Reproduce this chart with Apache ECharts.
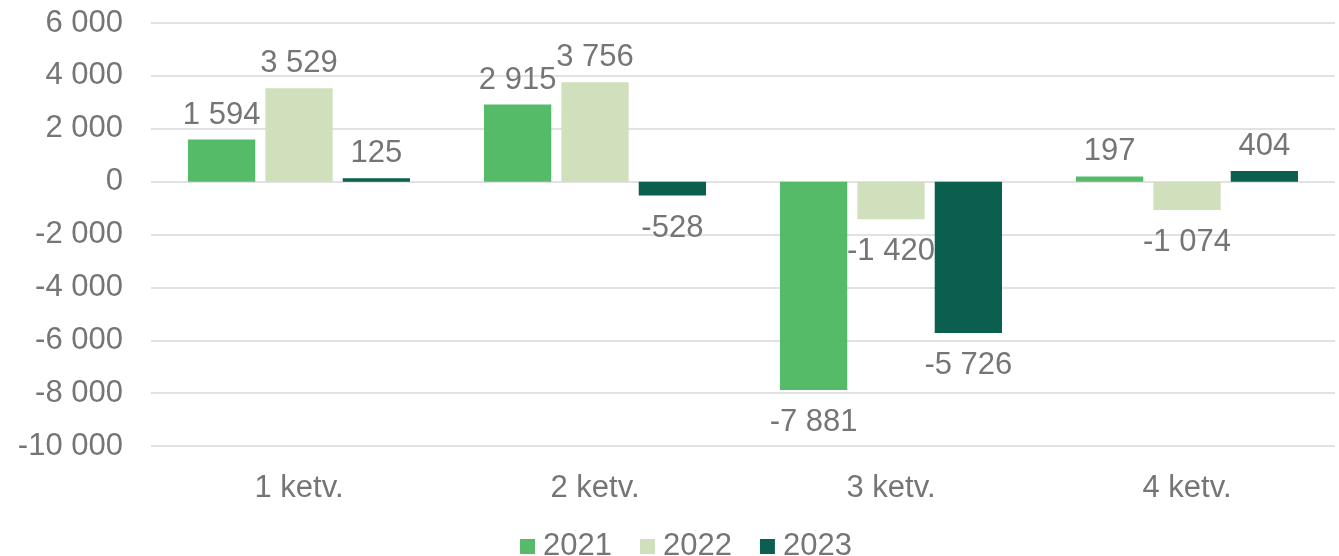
<!DOCTYPE html>
<html>
<head>
<meta charset="utf-8">
<script src="https://cdn.jsdelivr.net/npm/echarts@6/dist/echarts.min.js"></script>
<style>
  * { margin: 0; padding: 0; }
  body { background: #fff; }
</style>
</head>
<body>
<div id="main" style="width:1339px;height:556px;"></div>
<script>
  // adatok
  var categories = ['1 ketv.', '2 ketv.', '3 ketv.', '4 ketv.'];
  var seriesNames = ['2021', '2022', '2023'];
  var values2021 = [1594, 2915, -7881, 197];
  var values2022 = [3529, 3756, -1420, -1074];
  var values2023 = [125, -528, -5726, 404];
  var colors = ['#55bb69', '#d0dfbc', '#0a5f4e'];

  var fontFam = '"Liberation Sans", Arial, sans-serif';
  var grey = '#757575';
  var fs = 31;

  // szóköz ezres elválasztó
  function fmt(v) {
    var s = Math.abs(v).toString().replace(/\B(?=(\d{3})+(?!\d))/g, ' ');
    return (v < 0 ? '-' : '') + s;
  }

  function makeData(arr) {
    return arr.map(function (v) {
      return {
        value: v,
        label: { position: v < 0 ? 'bottom' : 'top', distance: v < 0 ? 17 : 9 }
      };
    });
  }

  var allValues = [values2021, values2022, values2023];
  var series = seriesNames.map(function (name, i) {
    return {
      name: name,
      type: 'bar',
      barGap: '15%',
      barCategoryGap: '25%',
      itemStyle: { color: colors[i] },
      label: {
        show: true,
        color: grey,
        fontSize: fs,
        fontFamily: fontFam,
        formatter: function (p) { return fmt(p.value); }
      },
      data: makeData(allValues[i])
    };
  });

  var chart = echarts.init(document.getElementById('main'));
  chart.setOption({
    animation: false,
    color: colors,
    grid: { left: 151, right: 4, top: 23, height: 423 },
    legend: {
      data: seriesNames,
      bottom: -11,
      left: 515,
      icon: 'rect',
      itemWidth: 15,
      itemHeight: 15,
      itemGap: 28,
      textStyle: { color: grey, fontSize: fs, fontFamily: fontFam, padding: [0, 0, 0, 3] }
    },
    xAxis: {
      type: 'category',
      data: categories,
      position: 'bottom',
      axisLine: { show: false },
      axisTick: { show: false },
      axisLabel: { color: grey, fontSize: fs, fontFamily: fontFam, margin: 27 }
    },
    yAxis: {
      type: 'value',
      min: -10000,
      max: 6000,
      interval: 2000,
      axisLine: { show: false },
      axisTick: { show: false },
      axisLabel: { color: grey, fontSize: fs, fontFamily: fontFam, margin: 28, formatter: fmt },
      splitLine: { lineStyle: { color: '#d9d9d9', width: 1.5 } }
    },
    series: series
  });
</script>
</body>
</html>
